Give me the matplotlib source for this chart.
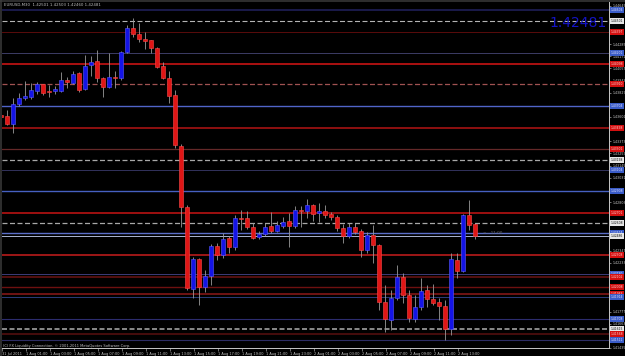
import matplotlib.pyplot as plt
import matplotlib.transforms as mtransforms
from matplotlib.lines import Line2D

# EURUSD M30 candles, 31 Jul 2011 23:00 -> 2 Aug 2011 14:30
opens = [1.43620, 1.43610, 1.43535, 1.43723, 1.43779, 1.43788, 1.43845, 1.43910, 1.43845, 1.43845,
         1.43845, 1.43948, 1.43920, 1.44013, 1.43863, 1.44088, 1.44126, 1.43966, 1.43882, 1.43976,
         1.43966, 1.44210, 1.44435, 1.44379, 1.44332, 1.44322, 1.44248, 1.44079, 1.43966, 1.43807,
         1.43329, 1.42758, 1.41989, 1.42270, 1.42008, 1.42111, 1.42392, 1.42308, 1.42467, 1.42383,
         1.42655, 1.42655, 1.42570, 1.42477, 1.42505, 1.42580, 1.42533, 1.42580, 1.42627, 1.42580,
         1.42730, 1.42720, 1.42776, 1.42701, 1.42720, 1.42692, 1.42664, 1.42561, 1.42486, 1.42570,
         1.42533, 1.42355, 1.42495, 1.42402, 1.41868, 1.41699, 1.41905, 1.42102, 1.41933, 1.41708,
         1.41821, 1.41980, 1.41896, 1.41868, 1.41830, 1.41615, 1.42261, 1.42158, 1.42683, 1.42598]
highs = [1.43629, 1.43667, 1.43779, 1.43826, 1.43938, 1.43920, 1.43929, 1.43910, 1.43901, 1.43891,
         1.44023, 1.43976, 1.44032, 1.44023, 1.44182, 1.44172, 1.44229, 1.43976, 1.44201, 1.44032,
         1.44219, 1.44463, 1.44529, 1.44482, 1.44397, 1.44322, 1.44257, 1.44116, 1.44032, 1.43854,
         1.43348, 1.42776, 1.42289, 1.42280, 1.42167, 1.42411, 1.42420, 1.42514, 1.42486, 1.42683,
         1.42730, 1.42720, 1.42608, 1.42533, 1.42608, 1.42711, 1.42627, 1.42664, 1.42701, 1.42767,
         1.42767, 1.42833, 1.42786, 1.42795, 1.42776, 1.42711, 1.42683, 1.42598, 1.42608, 1.42608,
         1.42552, 1.42523, 1.42589, 1.42411, 1.42027, 1.41980, 1.42214, 1.42139, 1.41980, 1.41933,
         1.42092, 1.42027, 1.42036, 1.41905, 1.41886, 1.42327, 1.42327, 1.42692, 1.42823, 1.42608]
lows = [1.43592, 1.43526, 1.43451, 1.43704, 1.43760, 1.43770, 1.43816, 1.43807, 1.43788, 1.43816,
        1.43835, 1.43873, 1.43910, 1.43835, 1.43854, 1.43985, 1.43929, 1.43788, 1.43873, 1.43873,
        1.43948, 1.44201, 1.44351, 1.44304, 1.44238, 1.44201, 1.44060, 1.43957, 1.43732, 1.43311,
        1.42570, 1.41980, 1.41905, 1.41839, 1.41961, 1.42027, 1.42261, 1.42280, 1.42327, 1.42355,
        1.42542, 1.42552, 1.42458, 1.42458, 1.42486, 1.42514, 1.42523, 1.42561, 1.42383, 1.42561,
        1.42570, 1.42655, 1.42627, 1.42617, 1.42655, 1.42636, 1.42533, 1.42420, 1.42467, 1.42505,
        1.42289, 1.42327, 1.42233, 1.41793, 1.41586, 1.41605, 1.41886, 1.41858, 1.41680, 1.41680,
        1.41793, 1.41821, 1.41839, 1.41699, 1.41511, 1.41558, 1.42092, 1.42149, 1.42542, 1.42458]
closes = [1.43601, 1.43535, 1.43723, 1.43779, 1.43798, 1.43854, 1.43910, 1.43826, 1.43835, 1.43863,
          1.43948, 1.43929, 1.44004, 1.43854, 1.44079, 1.44116, 1.43966, 1.43882, 1.43976, 1.43966,
          1.44210, 1.44435, 1.44379, 1.44332, 1.44313, 1.44248, 1.44069, 1.43966, 1.43798, 1.43339,
          1.42758, 1.41999, 1.42270, 1.42008, 1.42111, 1.42392, 1.42308, 1.42458, 1.42383, 1.42655,
          1.42645, 1.42570, 1.42467, 1.42505, 1.42570, 1.42533, 1.42589, 1.42617, 1.42580, 1.42730,
          1.42720, 1.42776, 1.42692, 1.42720, 1.42683, 1.42664, 1.42561, 1.42486, 1.42570, 1.42523,
          1.42355, 1.42495, 1.42402, 1.41868, 1.41708, 1.41905, 1.42102, 1.41933, 1.41718, 1.41821,
          1.41971, 1.41896, 1.41858, 1.41830, 1.41615, 1.42270, 1.42158, 1.42683, 1.42589, 1.42486]

time_labels = ['31 Jul 2011', '1 Aug 01:00', '1 Aug 03:00', '1 Aug 05:00', '1 Aug 07:00',
               '1 Aug 09:00', '1 Aug 11:00', '1 Aug 13:00', '1 Aug 15:00', '1 Aug 17:00',
               '1 Aug 19:00', '1 Aug 21:00', '1 Aug 23:00', '2 Aug 01:00', '2 Aug 03:00',
               '2 Aug 05:00', '2 Aug 07:00', '2 Aug 09:00', '2 Aug 11:00', '2 Aug 13:00']

price_ticks = [1.44645, 1.44285, 1.44171, 1.44057, 1.43943, 1.43829, 1.43601, 1.43373, 1.43259,
               1.43145, 1.43031, 1.42803, 1.42347, 1.42233, 1.41777, 1.41663, 1.41435]

# horizontal levels drawn on the chart
level_prices = [1.44604, 1.44501, 1.44397, 1.44201, 1.44098, 1.43910, 1.43704, 1.43498, 1.43301,
                1.43198, 1.43104, 1.42908, 1.42701, 1.42608, 1.42514, 1.42486, 1.42308, 1.42130,
                1.42102, 1.42008, 1.41943, 1.41914, 1.41708, 1.41615, 1.41568, 1.41511]
level_colors = ['#1c1c50', '#b4b4b4', '#5a0c0c', '#3c3c66', '#c81414', '#a05252', '#5064c8', '#b41414', '#642828',
                '#a8a8a8', '#32325c', '#4660c0', '#c81414', '#a8a8a8', '#5a6ec8', '#aab4d2', '#c81e1e', '#3c3c78',
                '#5a1010', '#6e1010', '#781414', '#2c3c78', '#2c2c6e', '#a0a0a0', '#5a1010', '#2c2c64']
level_styles = ['-', 'd', '-', '-', '-', 'd', '-', '-', '-',
                'd', '-', '-', '-', 'd', '-', '-', '-', '-',
                '-', '-', '-', '-', '-', 'd', '-', '-']
level_widths = [1.3, 0.8, 0.7, 0.7, 1.2, 0.9, 1.0, 1.1, 0.9,
                0.9, 0.7, 1.0, 1.1, 0.9, 1.0, 0.7, 1.1, 0.7,
                1.3, 1.0, 1.3, 0.7, 0.8, 1.2, 1.1, 0.8]
level_boxes = ['b', 'w', 'r', 'b', 'r', 'r', 'b', 'r', 'r',
               'w', 'b', 'b', 'r', 'w', 'b', 'w', 'r', 'b',
               'r', 'r', 'r', 'b', 'b', 'w', 'r', 'b']
box_fc = {'b': '#3a5cc8', 'r': '#d41010', 'w': '#e6e6e6'}
box_tc = {'b': '#e0e0ff', 'r': '#ffd0d0', 'w': '#101010'}

W, H = 625, 356
fig = plt.figure(figsize=(W / 100, H / 100), dpi=100, facecolor='black')
ax = fig.add_axes([2 / W, 8 / H, 607 / W, 346 / H])
ax.set_facecolor('black')
ax.set_xlim(0.12, 101.28)
ax.set_ylim(1.41436, 1.44679)

for price, col, ls, lw in zip(level_prices, level_colors, level_styles, level_widths):
    style = (0, (3.6 / lw, 1.8 / lw)) if ls == 'd' else '-'
    ax.axhline(price, color=col, ls=style, lw=lw, zorder=1)

# candles
x = list(range(len(opens)))
bull = [c >= o for o, c in zip(opens, closes)]
bottoms = [min(o, c) for o, c in zip(opens, closes)]
heights = [max(abs(c - o), 0.00003) for o, c in zip(opens, closes)]
fills = ['#1414e6' if b else '#e01616' for b in bull]
edges = ['#5a5aff' if b else '#ff4a4a' for b in bull]
ax.vlines(x, lows, highs, color='#9a9a9a', lw=0.6, zorder=2)
ax.bar(x, heights, bottom=bottoms, width=0.66, color=fills, edgecolor=edges, lw=0.4, zorder=3)

# axes look
for side in ['top', 'left']:
    ax.spines[side].set_visible(False)
for side in ['right', 'bottom']:
    ax.spines[side].set_color('#c8c8c8')
    ax.spines[side].set_linewidth(0.7)

ax.yaxis.tick_right()
ax.set_yticks(price_ticks)
ax.set_yticklabels([f'{p:.5f}' for p in price_ticks])
ax.tick_params(axis='y', colors='#c8c8c8', labelsize=2.3, length=1.5, width=0.4, pad=0.8)

ax.set_xticks([4 * j + 0.15 for j in range(len(time_labels))])
ax.set_xticklabels(time_labels, ha='left')
ax.tick_params(axis='x', colors='#c8c8c8', labelsize=2.5, length=2, width=0.4, pad=0.6)

# price boxes on the right scale
trans = mtransforms.blended_transform_factory(ax.transAxes, ax.transData)
for price, b in zip(level_prices, level_boxes):
    ax.text(1.003, price, f'{price:.5f}', transform=trans, fontsize=2.2, color=box_tc[b],
            ha='left', va='center', clip_on=False, zorder=6,
            bbox=dict(boxstyle='square,pad=0.25', fc=box_fc[b], ec='none'))

ax.text(0.996, 0.939, '1.42481', transform=ax.transAxes, fontsize=10, color='#1414c4',
        ha='right', va='center', zorder=5)

ax.annotate('<-- 11:00', (len(opens) - 0.4, closes[-1]), xytext=(3, 2), textcoords='offset points',
            fontsize=3, color='#6e6e6e', va='center', zorder=5)

fig.text(4 / W, 1 - 4.5 / H, 'EURUSD,M30  1.42501 1.42503 1.42460 1.42481',
         fontsize=2.8, color='#c0c0c0', va='center')
fig.text(3 / W, 1 - 345.5 / H, '(C) FX Liquidity Connection, \u00a9 2001-2011 MetaQuotes Software Corp.',
         fontsize=2.6, color='#c0c0c0', va='center')

fig.add_artist(Line2D([0, 1], [1 - 0.7 / H] * 2, color='#3c3c3c', lw=1.1, transform=fig.transFigure))
fig.add_artist(Line2D([0.7 / W] * 2, [0, 1], color='#3c3c3c', lw=1.1, transform=fig.transFigure))

fig.savefig('out.png', dpi=100, facecolor='black')
